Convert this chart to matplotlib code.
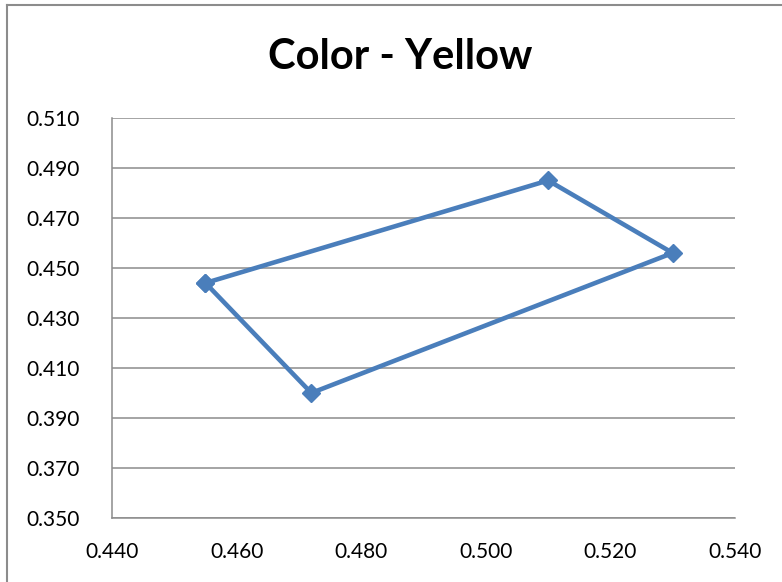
import matplotlib
matplotlib.use("Agg")
import matplotlib.pyplot as plt
from matplotlib.lines import Line2D

# chromaticity corners, closed back to the first point
x_vals = [0.455, 0.510, 0.530, 0.472, 0.455]
y_vals = [0.444, 0.485, 0.456, 0.400, 0.444]

x_ticks = [0.440, 0.460, 0.480, 0.500, 0.520, 0.540]
y_ticks = [0.350, 0.370, 0.390, 0.410, 0.430, 0.450, 0.470, 0.490, 0.510]

plt.rcParams['font.family'] = ['Lato', 'DejaVu Sans']

fig = plt.figure(figsize=(7.82, 5.82), dpi=100)
ax = fig.add_axes([0.1432, 0.1100, 0.7967, 0.6873])

line_color = '#4A7EBB'
ax.plot(x_vals, y_vals, color=line_color, linewidth=3.3, marker='D',
        markersize=9, markerfacecolor=line_color, markeredgecolor=line_color,
        solid_joinstyle='round', zorder=3)

ax.set_xlim(0.440, 0.540)
ax.set_ylim(0.350, 0.510)
ax.set_xticks(x_ticks)
ax.set_yticks(y_ticks)
ax.set_xticklabels([f"{v:.3f}" for v in x_ticks])
ax.set_yticklabels([f"{v:.3f}" for v in y_ticks])
ax.tick_params(axis='both', length=0, labelsize=15, colors='black')
ax.tick_params(axis='x', pad=17)
ax.tick_params(axis='y', pad=23)

ax.grid(axis='y', color='#8C8C8C', linewidth=1.1)
ax.set_axisbelow(True)
for side in ['top', 'right']:
    ax.spines[side].set_visible(False)
for side in ['left', 'bottom']:
    ax.spines[side].set_color('#8C8C8C')
    ax.spines[side].set_linewidth(1.1)

fig.text(0.5115, 0.902, 'Color - Yellow', ha='center', va='center',
         fontsize=30, fontweight='bold')

# outer chart frame (left and top edges)
fig.add_artist(Line2D([7 / 782, 7 / 782], [0, 1 - 5 / 582],
                      transform=fig.transFigure, color='#8C8C8C', linewidth=1.5))
fig.add_artist(Line2D([7 / 782, 1], [1 - 5 / 582, 1 - 5 / 582],
                      transform=fig.transFigure, color='#8C8C8C', linewidth=1.5))

fig.savefig('out.png', dpi=100)
